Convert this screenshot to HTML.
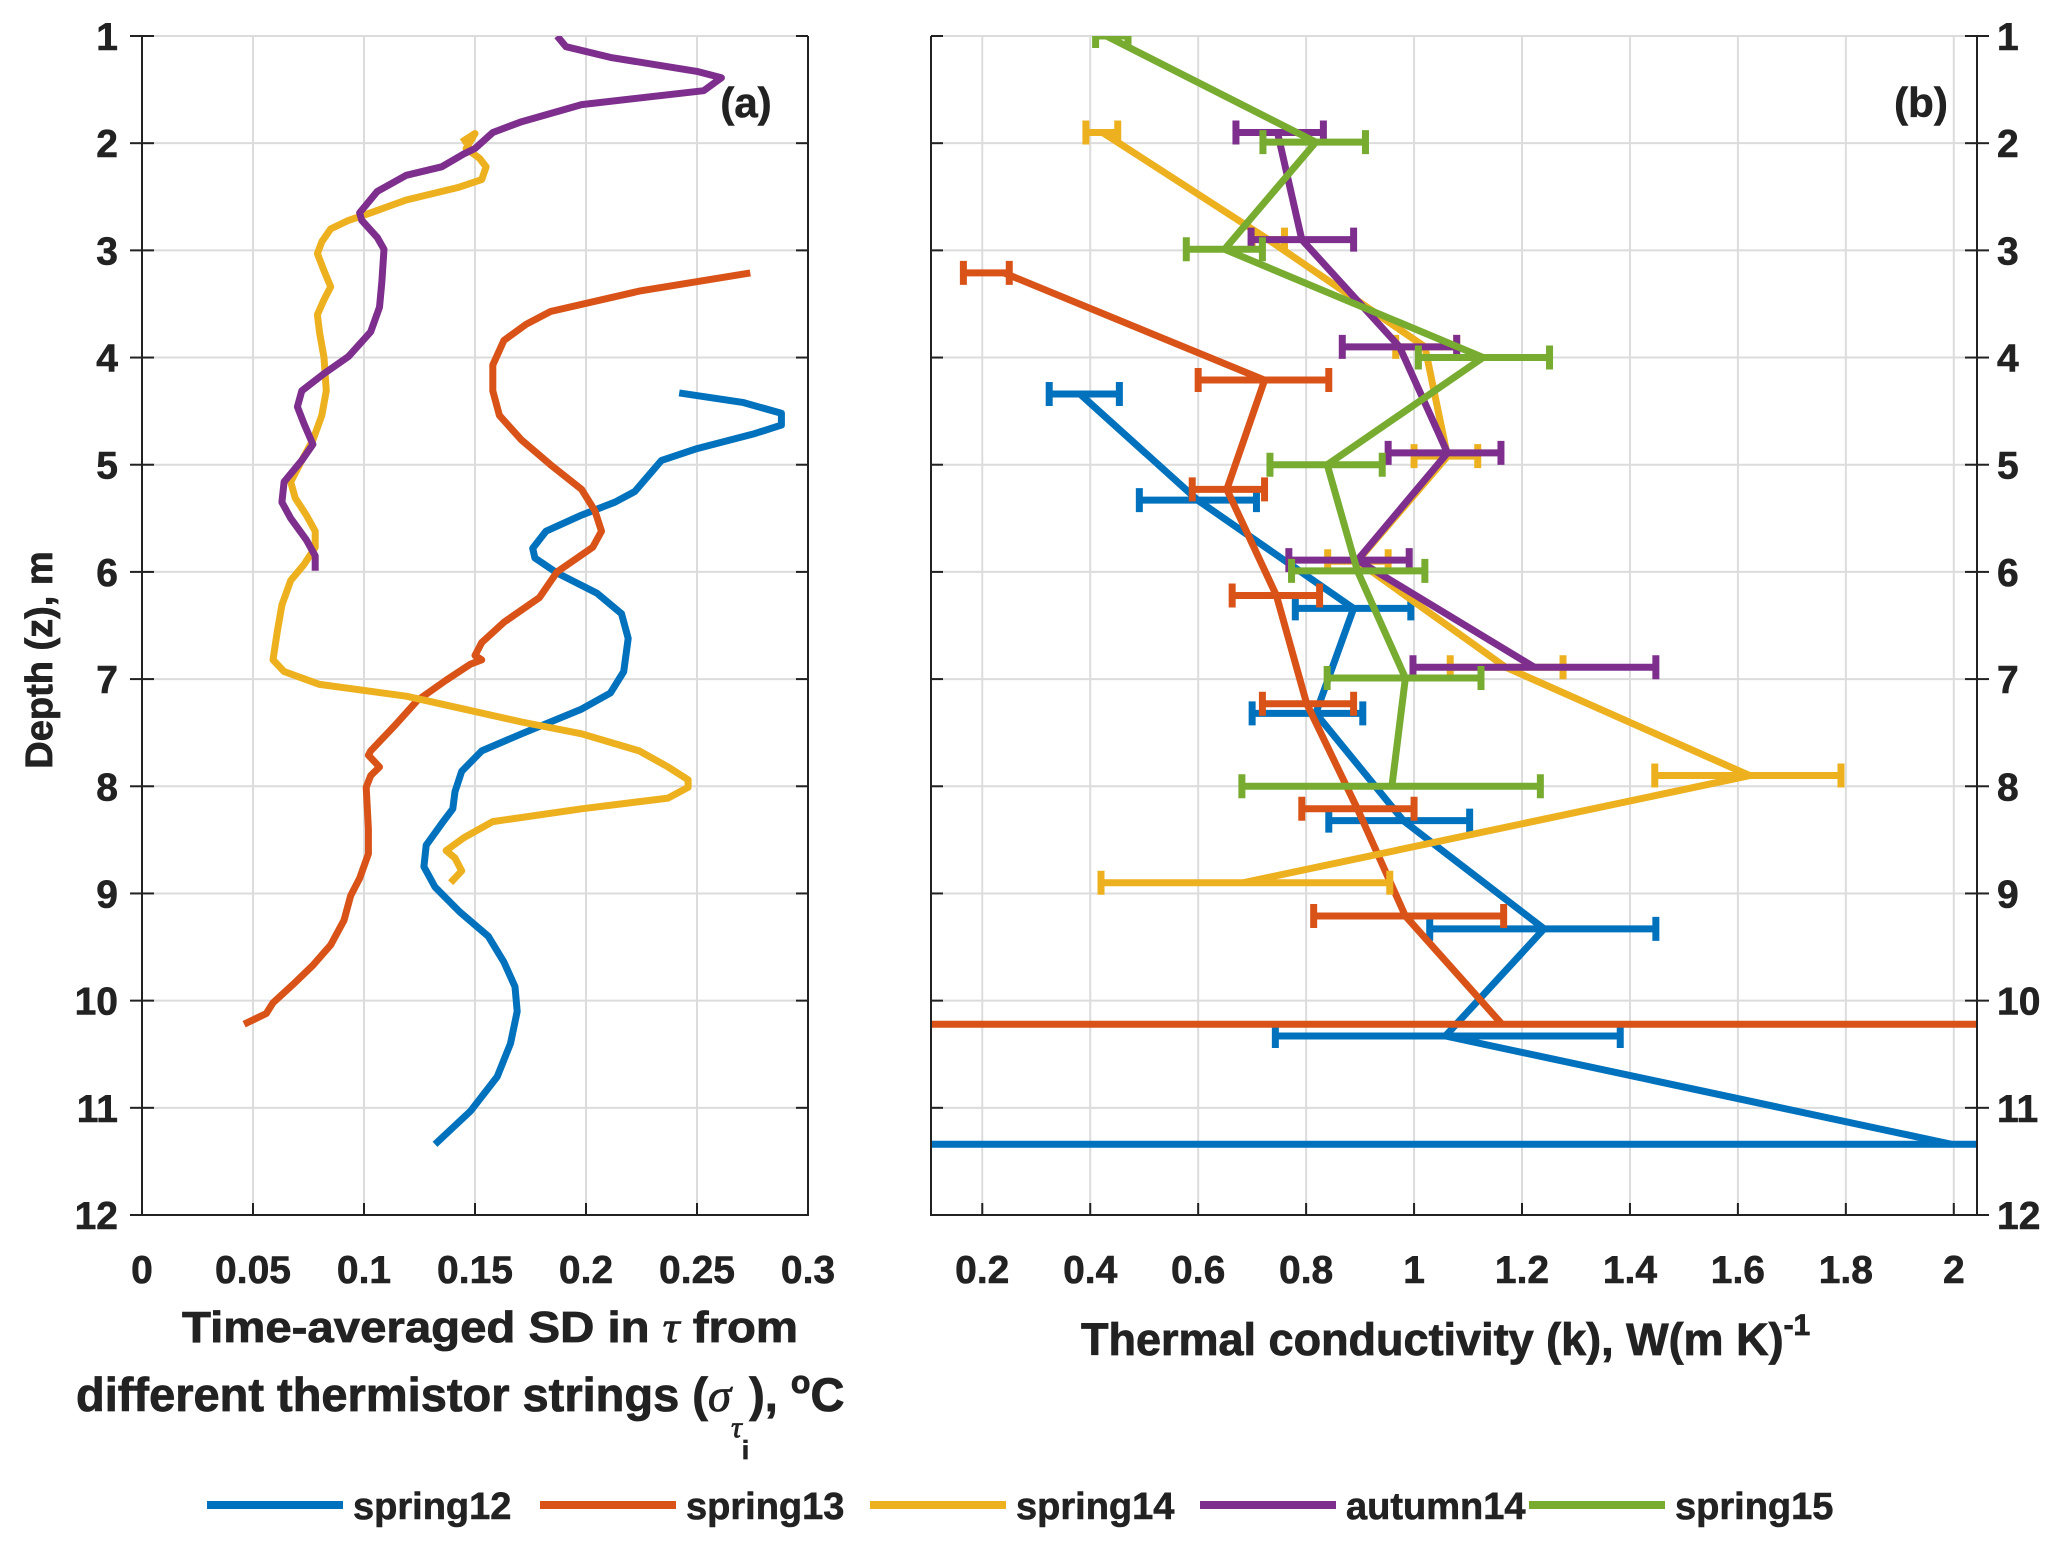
<!DOCTYPE html>
<html><head><meta charset="utf-8"><style>
html,body{margin:0;padding:0;background:#fff;}
svg{display:block;font-family:"Liberation Sans",Arial,sans-serif;font-weight:bold;}
</style></head><body>
<svg id="fig" width="2067" height="1547" viewBox="0 0 2067 1547" xmlns="http://www.w3.org/2000/svg">
<defs>
<clipPath id="clipA"><rect x="142" y="36" width="666" height="1179"/></clipPath>
<clipPath id="clipB"><rect x="931" y="36" width="1046" height="1179"/></clipPath>
</defs>
<g id="panelA"></g>
<g id="panelB"></g>
<text transform="translate(52,660) rotate(-90)" text-anchor="middle" font-size="38" fill="#222" stroke="#222" stroke-width="0.8">Depth (z), m</text>
<text x="182" y="1342" font-size="44" fill="#222" stroke="#222" stroke-width="0.8" textLength="616" lengthAdjust="spacingAndGlyphs">Time-averaged SD  in <tspan font-family="Liberation Serif" font-style="italic" font-weight="normal">τ</tspan> from</text>
<text x="76" y="1411" font-size="47" fill="#222" stroke="#222" stroke-width="0.8">different thermistor strings (<tspan font-family="Liberation Serif" font-style="italic" font-weight="normal">σ</tspan><tspan font-family="Liberation Serif" font-style="italic" font-weight="normal" font-size="30" dy="26">τ</tspan><tspan font-size="26" dy="22">i</tspan><tspan dy="-48">), </tspan><tspan font-size="32" dy="-18">o</tspan><tspan dy="18">C</tspan></text>
<text x="1081" y="1355" font-size="45" fill="#222" stroke="#222" stroke-width="0.8">Thermal conductivity (k), W(m K)<tspan font-size="30" dy="-20">-1</tspan></text>
<text x="746" y="117" text-anchor="middle" font-size="42" fill="#222" stroke="#222" stroke-width="0.6">(a)</text>
<text x="1921" y="117" text-anchor="middle" font-size="42" fill="#222" stroke="#222" stroke-width="0.6">(b)</text>
<g id="legend"></g>
</svg>
<script>
const NS="http://www.w3.org/2000/svg";
const seriesNames=["spring12","spring13","spring14","autumn14","spring15"];
const seriesColors=["#0072BD","#D95319","#EDB120","#7E2F8E","#77AC30"];
const depthTicks=[1,2,3,4,5,6,7,8,9,10,11,12];
const xTicksA=[0,0.05,0.1,0.15,0.2,0.25,0.3];
const xTickLabelsA=["0","0.05","0.1","0.15","0.2","0.25","0.3"];
const xTicksB=[0.2,0.4,0.6,0.8,1,1.2,1.4,1.6,1.8,2];
const xTickLabelsB=["0.2","0.4","0.6","0.8","1","1.2","1.4","1.6","1.8","2"];
// panel (a) profiles: sigma values and depths
const s12Sigma=[0.242,0.271,0.288,0.288,0.276,0.250,0.234,0.229,0.222,0.213,0.198,0.182,0.176,0.177,0.187,0.205,0.216,0.219,0.217,0.211,0.198,0.171,0.153,0.144,0.141,0.140,0.136,0.128,0.127,0.132,0.143,0.156,0.163,0.168,0.169,0.166,0.160,0.148,0.132];
const s12Depth=[4.33,4.42,4.52,4.63,4.71,4.85,4.96,5.08,5.25,5.35,5.47,5.62,5.78,5.87,6.01,6.20,6.39,6.62,6.93,7.13,7.28,7.51,7.67,7.86,8.05,8.21,8.32,8.55,8.75,8.94,9.17,9.40,9.64,9.87,10.10,10.40,10.71,11.03,11.34];
const s13Sigma=[0.274,0.224,0.184,0.173,0.163,0.158,0.158,0.161,0.171,0.184,0.198,0.204,0.207,0.203,0.187,0.179,0.163,0.153,0.150,0.153,0.148,0.137,0.124,0.114,0.103,0.102,0.107,0.103,0.101,0.102,0.102,0.098,0.094,0.091,0.085,0.077,0.069,0.059,0.056,0.046];
const s13Depth=[3.21,3.38,3.57,3.69,3.84,4.07,4.31,4.54,4.77,5.00,5.23,5.43,5.62,5.77,6.00,6.24,6.47,6.66,6.78,6.82,6.86,7.01,7.20,7.43,7.67,7.71,7.82,7.90,8.01,8.40,8.63,8.86,9.02,9.25,9.48,9.67,9.83,10.02,10.12,10.22];
const s14Sigma=[0.144,0.150,0.146,0.152,0.155,0.153,0.143,0.119,0.103,0.093,0.085,0.081,0.079,0.082,0.085,0.082,0.079,0.080,0.082,0.083,0.081,0.077,0.072,0.067,0.069,0.074,0.078,0.078,0.073,0.067,0.063,0.061,0.059,0.064,0.080,0.119,0.145,0.171,0.198,0.224,0.237,0.246,0.246,0.237,0.198,0.158,0.145,0.137,0.141,0.144,0.139];
const s14Depth=[1.99,1.91,2.05,2.14,2.22,2.34,2.41,2.53,2.65,2.72,2.80,2.92,3.03,3.19,3.34,3.46,3.60,3.77,4.00,4.31,4.54,4.77,4.96,5.16,5.31,5.47,5.62,5.77,5.93,6.08,6.31,6.55,6.82,6.93,7.05,7.16,7.28,7.40,7.51,7.67,7.82,7.94,8.01,8.11,8.21,8.33,8.48,8.60,8.67,8.79,8.90];
const a14Sigma=[0.187,0.191,0.211,0.250,0.261,0.253,0.198,0.171,0.158,0.150,0.145,0.135,0.119,0.106,0.098,0.099,0.106,0.109,0.108,0.107,0.103,0.093,0.082,0.072,0.070,0.073,0.077,0.072,0.064,0.063,0.067,0.074,0.078,0.078];
const a14Depth=[1.00,1.10,1.20,1.33,1.39,1.51,1.64,1.80,1.90,2.05,2.10,2.22,2.30,2.45,2.65,2.72,2.88,2.99,3.30,3.53,3.76,3.99,4.15,4.31,4.46,4.62,4.81,4.96,5.16,5.35,5.50,5.70,5.85,5.99];
// panel (b) conductivity with error bounds
const s12K=[0.381,0.599,0.888,0.818,0.98,1.241,1.058,1.996];
const s12KDepth=[4.34,5.33,6.34,7.32,8.32,9.33,10.33,11.34];
const s12KLo=[0.324,0.491,0.78,0.70,0.842,1.029,0.743,-2];
const s12KHi=[0.454,0.708,0.994,0.905,1.103,1.448,1.382,4];
const s13K=[0.24,0.723,0.653,0.745,0.801,0.895,0.984,1.163];
const s13KDepth=[3.21,4.21,5.23,6.22,7.23,8.21,9.21,10.22];
const s13KLo=[0.165,0.6,0.589,0.663,0.719,0.792,0.814,-2];
const s13KHi=[0.25,0.842,0.723,0.825,0.888,1.0,1.166,4];
const s14K=[0.423,0.73,1.02,1.062,0.895,1.17,1.622,0.684];
const s14KDepth=[1.90,2.90,3.90,4.92,5.90,6.89,7.90,8.90];
const s14KLo=[0.392,0.70,0.966,1.0,0.84,1.067,1.446,0.42];
const s14KHi=[0.451,0.76,1.079,1.118,0.952,1.276,1.791,0.955];
const a14K=[0.747,0.792,0.973,1.062,0.895,1.223];
const a14KDepth=[1.90,2.90,3.90,4.89,5.89,6.89];
const a14KLo=[0.67,0.698,0.867,0.952,0.768,0.998];
const a14KHi=[0.832,0.888,1.079,1.161,0.991,1.448];
const s15K=[0.43,0.818,0.649,1.128,0.839,0.895,0.984,0.959];
const s15KDepth=[1.00,1.99,2.99,4.00,5.00,5.99,6.99,8.00];
const s15KLo=[0.41,0.72,0.578,1.008,0.733,0.773,0.839,0.681];
const s15KHi=[0.47,0.91,0.719,1.251,0.941,1.02,1.124,1.234];

const TOP=36,BOT=1215;
const yScale=d=>TOP+(d-1)/11*(BOT-TOP);
const AX0=142,AX1=808, BX0=931,BX1=1977;
const xA=v=>AX0+v/0.3*(AX1-AX0);
const BMIN=0.105,BMAX=2.043;
const xB=v=>BX0+(v-BMIN)/(BMAX-BMIN)*(BX1-BX0);

function mk(tag,attrs,parent){const e=document.createElementNS(NS,tag);for(const k in attrs)e.setAttribute(k,attrs[k]);parent.appendChild(e);return e;}

function axes(g,x0,x1,xt,xl,xs,side,nm){
  xt.forEach((t)=>{const l=mk('line',{x1:xs(t),x2:xs(t),y1:TOP,y2:BOT,stroke:'#dcdcdc','stroke-width':2},g);
    });
  depthTicks.forEach(d=>{const l=mk('line',{x1:x0,x2:x1,y1:yScale(d),y2:yScale(d),stroke:'#dcdcdc','stroke-width':2},g);
    });
}
function frame(g,x0,x1,xt,xl,xs,side,nm){
  const f=mk('path',{d:`M${x0},${TOP}V${BOT}H${x1}V${TOP}`,fill:'none',stroke:'#222','stroke-width':2},g);
  
  xt.forEach((t,i)=>{
    mk('line',{x1:xs(t),x2:xs(t),y1:BOT,y2:BOT-12,stroke:'#222','stroke-width':2},g);
    const tx=mk('text',{x:xs(t),y:1283,'text-anchor':'middle','font-size':39,fill:'#222',stroke:'#222','stroke-width':0.6},g);
    tx.textContent=xl[i];
    
  });
  depthTicks.forEach(d=>{
    const y=yScale(d);
    mk('line',{x1:x0,x2:x0+12,y1:y,y2:y,stroke:'#222','stroke-width':2},g);
    mk('line',{x1:x1,x2:x1-12,y1:y,y2:y,stroke:'#222','stroke-width':2},g);
    mk('line',{x1:side==='left'?x0-12:x1+12,x2:side==='left'?x0:x1,y1:y,y2:y,stroke:'#222','stroke-width':2},g);
    const tx=mk('text',{x:side==='left'?x0-24:x1+20,y:y+14,'text-anchor':side==='left'?'end':'start','font-size':39,fill:'#222',stroke:'#222','stroke-width':0.6},g);
    tx.textContent=String(d);
    
  });
}

const gA=document.getElementById('panelA');
axes(gA,AX0,AX1,xTicksA,xTickLabelsA,xA,'left','panel-a');
const pA=mk('g',{'clip-path':'url(#clipA)'},gA);
const profiles=[[s12Sigma,s12Depth],[s13Sigma,s13Depth],[s14Sigma,s14Depth],[a14Sigma,a14Depth]];
profiles.forEach((p,i)=>{
  const pts=p[0].map((v,j)=>xA(v).toFixed(1)+','+yScale(p[1][j]).toFixed(1)).join(' ');
  const pl=mk('polyline',{points:pts,fill:'none',stroke:seriesColors[i],'stroke-width':7,'stroke-linejoin':'round'},pA);
  
  
});
frame(gA,AX0,AX1,xTicksA,xTickLabelsA,xA,'left','panel-a');

const gB=document.getElementById('panelB');
axes(gB,BX0,BX1,xTicksB,xTickLabelsB,xB,'right','panel-b');
const pB=mk('g',{'clip-path':'url(#clipB)'},gB);
const kSeries=[[s12K,s12KDepth,s12KLo,s12KHi],[s13K,s13KDepth,s13KLo,s13KHi],[s14K,s14KDepth,s14KLo,s14KHi],[a14K,a14KDepth,a14KLo,a14KHi],[s15K,s15KDepth,s15KLo,s15KHi]];
kSeries.forEach((s,i)=>{
  const c=seriesColors[i];
  s[0].forEach((v,j)=>{
    const y=yScale(s[1][j]);
    const eb=mk('path',{d:`M${xB(s[2][j])},${y}H${xB(s[3][j])}M${xB(s[2][j])},${y-12}v24M${xB(s[3][j])},${y-12}v24`,fill:'none',stroke:c,'stroke-width':7},pB);
    
    
  });
  const pts=s[0].map((v,j)=>xB(v).toFixed(1)+','+yScale(s[1][j]).toFixed(1)).join(' ');
  const pl=mk('polyline',{points:pts,fill:'none',stroke:c,'stroke-width':7,'stroke-linejoin':'round'},pB);
  
  
});
frame(gB,BX0,BX1,xTicksB,xTickLabelsB,xB,'right','panel-b');

const legX=[207,540,870,1200,1529];
const lg=document.getElementById('legend');
seriesNames.forEach((n,i)=>{
  const e=mk('g',{},lg);
  
  
  mk('line',{x1:legX[i],x2:legX[i]+136,y1:1505,y2:1505,stroke:seriesColors[i],'stroke-width':8},e);
  const t=mk('text',{x:legX[i]+146,y:1519,'font-size':38,fill:'#222',stroke:'#222','stroke-width':0.6},e);
  t.textContent=n;
});
</script>
</body></html>
